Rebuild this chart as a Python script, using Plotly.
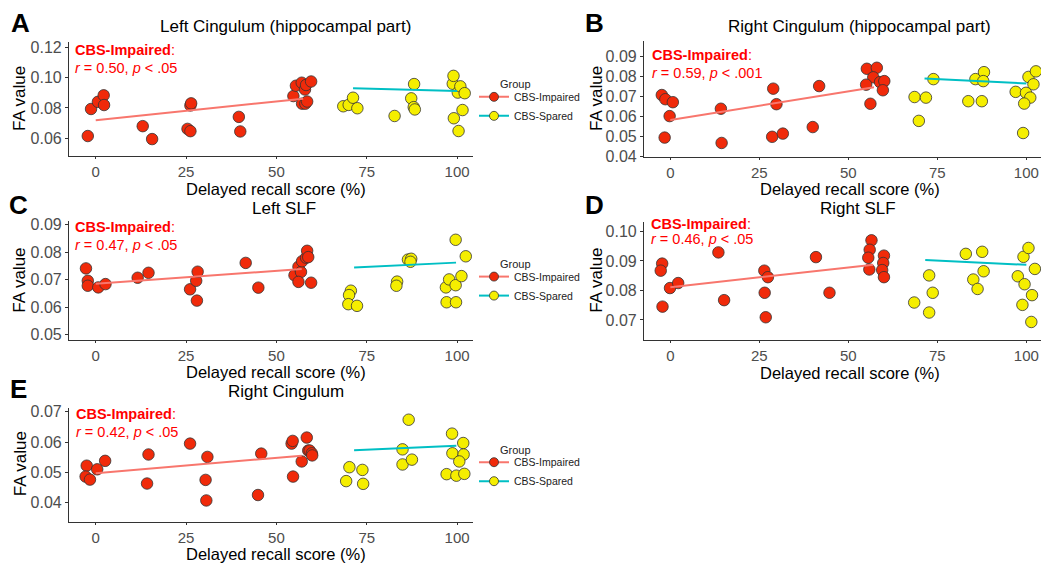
import plotly.graph_objects as go

# ---------------- data ----------------
x_ticks = [0, 25, 50, 75, 100]
x_ticktext = ["0", "25", "50", "75", "100"]

# Panel A: Left Cingulum (hippocampal part)
A_imp_x = [-2.2, -1.3, 0.6, 2.2, 2.3, 13.0, 15.6, 25.4, 26.2, 26.2, 26.4, 39.6, 40.0,
           54.7, 55.4, 57.0, 57.9, 58.2, 57.1, 58.0, 58.5, 59.6]
A_imp_y = [0.0615, 0.0793, 0.0840, 0.0883, 0.0819, 0.0680, 0.0595, 0.0662, 0.0647, 0.0816,
           0.0830, 0.0741, 0.0645, 0.0878, 0.0946, 0.0966, 0.0921, 0.0951, 0.0828, 0.0828,
           0.0842, 0.0974]
A_spa_x = [68.5, 70.0, 71.2, 72.4, 82.7, 87.3, 88.1, 88.0, 88.3, 98.8, 99.0, 99.1, 100.4,
           100.2, 100.9, 102.1, 101.5]
A_spa_y = [0.0811, 0.0820, 0.0867, 0.0798, 0.0747, 0.0863, 0.0957, 0.0805, 0.0790, 0.0959,
           0.1011, 0.0732, 0.0648, 0.0901, 0.0942, 0.0897, 0.0786]
A_imp_fit_x = [0, 57.4]
A_imp_fit_y = [0.0719, 0.0861]
A_spa_fit_x = [71.2, 100]
A_spa_fit_y = [0.0929, 0.0912]
A_yticks = [0.06, 0.08, 0.10, 0.12]
A_yticktext = ["0.06", "0.08", "0.10", "0.12"]

# Panel B: Right Cingulum (hippocampal part)
B_imp_x = [-2.4, -1.4, 0.7, -0.2, -1.6, 14.2, 14.4, 28.9, 29.8, 28.6, 31.6, 41.8, 40.0,
           55.2, 58.0, 57.0, 55.0, 56.2, 58.9, 60.1, 59.7]
B_imp_y = [0.0708, 0.0687, 0.0672, 0.0602, 0.0494, 0.0639, 0.0467, 0.0740, 0.0662, 0.0498,
           0.0514, 0.0753, 0.0547, 0.0840, 0.0845, 0.0797, 0.0760, 0.0664, 0.0773, 0.0778,
           0.0732]
B_spa_x = [68.6, 71.8, 69.8, 73.9, 83.7, 85.7, 88.1, 87.9, 87.5, 97.0, 99.9, 100.6, 102.0,
           102.7, 101.1, 99.4, 99.1]
B_spa_y = [0.0698, 0.0695, 0.0578, 0.0788, 0.0677, 0.0788, 0.0823, 0.0778, 0.0677, 0.0724,
           0.0719, 0.0799, 0.0762, 0.0827, 0.0695, 0.0665, 0.0517]
B_imp_fit_x = [0, 57.2]
B_imp_fit_y = [0.0582, 0.0747]
B_spa_fit_x = [71.4, 100]
B_spa_fit_y = [0.0791, 0.0766]
B_yticks = [0.04, 0.05, 0.06, 0.07, 0.08, 0.09]
B_yticktext = ["0.04", "0.05", "0.06", "0.07", "0.08", "0.09"]

# Panel C: Left SLF
C_imp_x = [-2.7, -2.2, -2.2, 0.7, 2.7, 11.6, 14.6, 26.1, 27.8, 28.2, 28.0, 41.5, 45.0,
           55.0, 56.1, 56.8, 56.1, 57.1, 58.2, 58.5, 58.8, 59.6]
C_imp_y = [0.0741, 0.0696, 0.0678, 0.0672, 0.0684, 0.0707, 0.0725, 0.0665, 0.0696, 0.0729,
           0.0624, 0.0761, 0.0671, 0.0716, 0.0747, 0.0728, 0.0692, 0.0767, 0.0780, 0.0805,
           0.0782, 0.0689]
C_spa_x = [70.6, 70.1, 69.9, 72.3, 83.4, 83.2, 86.4, 87.3, 87.1, 96.9, 97.8, 97.1, 99.6,
           99.6, 99.7, 101.2, 102.4]
C_spa_y = [0.0660, 0.0644, 0.0611, 0.0605, 0.0693, 0.0678, 0.0773, 0.0776, 0.0765, 0.0672,
           0.0701, 0.0618, 0.0845, 0.0680, 0.0618, 0.0713, 0.0785]
C_imp_fit_x = [0, 57.0]
C_imp_fit_y = [0.0685, 0.0739]
C_spa_fit_x = [71.5, 99.7]
C_spa_fit_y = [0.0744, 0.0762]
C_yticks = [0.05, 0.06, 0.07, 0.08, 0.09]
C_yticktext = ["0.05", "0.06", "0.07", "0.08", "0.09"]

# Panel D: Right SLF
D_imp_x = [-2.3, -2.7, -2.2, -0.1, 2.2, 13.5, 15.1, 26.4, 27.4, 26.5, 26.8, 40.9, 44.7,
           56.5, 56.0, 55.6, 55.9, 60.0, 59.8, 59.5, 60.0]
D_imp_y = [0.0891, 0.0867, 0.0745, 0.0808, 0.0825, 0.0929, 0.0767, 0.0867, 0.0845, 0.0792,
           0.0709, 0.0913, 0.0792, 0.0970, 0.0938, 0.0911, 0.0871, 0.0918, 0.0893, 0.0869,
           0.0845]
D_spa_x = [68.5, 72.7, 73.7, 72.7, 83.0, 85.1, 86.3, 87.6, 88.0, 97.6, 99.2, 100.6, 99.5,
           98.9, 102.4, 101.6, 101.4]
D_spa_y = [0.0759, 0.0851, 0.0792, 0.0725, 0.0924, 0.0837, 0.0805, 0.0931, 0.0865, 0.0848,
           0.0914, 0.0944, 0.0821, 0.0751, 0.0873, 0.0784, 0.0693]
D_imp_fit_x = [0, 57.0]
D_imp_fit_y = [0.0811, 0.0887]
D_spa_fit_x = [71.6, 100]
D_spa_fit_y = [0.0903, 0.0887]
D_yticks = [0.07, 0.08, 0.09, 0.10]
D_yticktext = ["0.07", "0.08", "0.09", "0.10"]

# Panel E: Right Cingulum
E_imp_x = [-2.5, -2.8, -1.6, 0.4, 2.6, 14.6, 14.2, 26.1, 30.9, 30.4, 30.6, 44.9, 45.8,
           54.2, 54.5, 54.6, 57.0, 58.4, 58.8, 59.2, 59.8, 59.9]
E_imp_y = [0.0522, 0.0486, 0.0476, 0.0510, 0.0538, 0.0559, 0.0463, 0.0595, 0.0551, 0.0475,
           0.0407, 0.0425, 0.0562, 0.0595, 0.0604, 0.0486, 0.0536, 0.0615, 0.0572, 0.0572,
           0.0563, 0.0556]
E_spa_x = [70.2, 69.3, 73.8, 74.0, 86.6, 84.9, 84.9, 87.5, 98.6, 98.7, 97.1, 99.8, 101.7,
           101.8, 100.6, 102.0]
E_spa_y = [0.0517, 0.0471, 0.0508, 0.0462, 0.0674, 0.0576, 0.0526, 0.0542, 0.0628, 0.0563,
           0.0494, 0.0489, 0.0597, 0.0559, 0.0536, 0.0495]
E_imp_fit_x = [0, 57.0]
E_imp_fit_y = [0.0497, 0.0555]
E_spa_fit_x = [71.5, 99.8]
E_spa_fit_y = [0.0573, 0.0588]
E_yticks = [0.04, 0.05, 0.06, 0.07]
E_yticktext = ["0.04", "0.05", "0.06", "0.07"]

titles = ["Left Cingulum (hippocampal part)", "Right Cingulum (hippocampal part)",
          "Left SLF", "Right SLF", "Right Cingulum"]
letters = ["A", "B", "C", "D", "E"]
stat_r = ["0.50", "0.59", "0.47", "0.46", "0.42"]
stat_p = [".05", ".001", ".05", ".05", ".05"]
groups = ["CBS-Impaired", "CBS-Spared"]

# ---------------- geometry (pixels) ----------------
OFF = 8
W, H = 1049 - OFF, 569 - OFF


def fx(p):
    return (p - OFF) / W


def fy(p):
    return 1 - (p - OFF) / H


# L, R, T, B of plotting areas
boxes = [(69, 473, 38, 154), (644, 1042, 37, 155.5), (69, 473, 221, 343),
         (644, 1042, 222, 343), (69, 473, 412, 529)]
yranges = [(0.0486, 0.1232), (0.0396, 0.0978), (0.0480, 0.0913), (0.0631, 0.1032),
           (0.0336, 0.0714)]
title_pos = [(285, 22), (859, 22), (284, 208), (858, 208), (286, 395)]
letter_pos = [(20, 18), (594, 18), (18, 205), (594, 205), (18, 393)]
stat_x = [73, 650, 73, 649, 74]
stat_y1 = [45.5, 50.5, 227.5, 223.5, 419]
stat_y2 = [64, 69, 245.5, 239.5, 436.5]
ylab_pos = [(20, 96), (597, 96), (20, 282), (597, 282), (20, 470)]
xlab_pos = [(276, 188.5), (850, 188.5), (276, 375.5), (850, 376.5), (276, 561.5)]
legend_pos = [(474, 79), None, (474, 263), None, (474, 453)]
group_title_pos = [(498, 81), None, (498, 265), None, (498, 455)]

panels = [
    (A_imp_x, A_imp_y, A_spa_x, A_spa_y, A_imp_fit_x, A_imp_fit_y, A_spa_fit_x, A_spa_fit_y, A_yticks, A_yticktext),
    (B_imp_x, B_imp_y, B_spa_x, B_spa_y, B_imp_fit_x, B_imp_fit_y, B_spa_fit_x, B_spa_fit_y, B_yticks, B_yticktext),
    (C_imp_x, C_imp_y, C_spa_x, C_spa_y, C_imp_fit_x, C_imp_fit_y, C_spa_fit_x, C_spa_fit_y, C_yticks, C_yticktext),
    (D_imp_x, D_imp_y, D_spa_x, D_spa_y, D_imp_fit_x, D_imp_fit_y, D_spa_fit_x, D_spa_fit_y, D_yticks, D_yticktext),
    (E_imp_x, E_imp_y, E_spa_x, E_spa_y, E_imp_fit_x, E_imp_fit_y, E_spa_fit_x, E_spa_fit_y, E_yticks, E_yticktext),
]

FONT = "Liberation Sans, Arial, Helvetica, sans-serif"
RED_FILL = "#F02A0A"
YEL_FILL = "#F5EE00"
RED_LINE = "#F8766D"
CYAN_LINE = "#00BFC4"
OUTLINE = "#333333"
AXIS_COL = "#333333"

fig = go.Figure()
layout = dict(
    width=W, height=H,
    margin=dict(l=0, r=0, t=0, b=0),
    paper_bgcolor="white", plot_bgcolor="white",
    font=dict(family=FONT, color="black"),
    showlegend=True,
    annotations=[],
)

legend_names = {0: "legend", 2: "legend2", 4: "legend3"}

for i, (ix, iy, sx, sy, ifx, ify, sfx, sfy, yt, ytt) in enumerate(panels):
    n = "" if i == 0 else str(i + 1)
    xa, ya = "x" + n, "y" + n
    L, R, T, B = boxes[i]
    layout["xaxis" + n] = dict(
        domain=[fx(L), fx(R)], range=[-7.4, 104.4], anchor=ya,
        tickvals=x_ticks, ticktext=x_ticktext,
        showline=True, linecolor=AXIS_COL, linewidth=1.1,
        ticks="outside", ticklen=2, tickwidth=1, tickcolor=AXIS_COL,
        tickfont=dict(size=15, color="#4D4D4D", family=FONT),
        showgrid=False, zeroline=False,
    )
    layout["yaxis" + n] = dict(
        domain=[fy(B), fy(T)], range=list(yranges[i]), anchor=xa,
        tickvals=yt, ticktext=ytt,
        showline=True, linecolor=AXIS_COL, linewidth=1.1,
        ticks="outside", ticklen=3, tickwidth=1, tickcolor=AXIS_COL,
        tickfont=dict(size=16, color="#4D4D4D", family=FONT),
        showgrid=False, zeroline=False,
    )
    # points
    fig.add_trace(go.Scatter(x=ix, y=iy, mode="markers", xaxis=xa, yaxis=ya, showlegend=False,
                             marker=dict(size=11.5, color=RED_FILL, line=dict(color=OUTLINE, width=0.8))))
    fig.add_trace(go.Scatter(x=sx, y=sy, mode="markers", xaxis=xa, yaxis=ya, showlegend=False,
                             marker=dict(size=11.5, color=YEL_FILL, line=dict(color=OUTLINE, width=0.8))))
    # fit lines
    fig.add_trace(go.Scatter(x=ifx, y=ify, mode="lines", xaxis=xa, yaxis=ya, showlegend=False,
                             line=dict(color=RED_LINE, width=2)))
    fig.add_trace(go.Scatter(x=sfx, y=sfy, mode="lines", xaxis=xa, yaxis=ya, showlegend=False,
                             line=dict(color=CYAN_LINE, width=2)))

    anns = layout["annotations"]
    # title
    anns.append(dict(text=titles[i], x=fx(title_pos[i][0]), y=fy(title_pos[i][1]), xref="paper", yref="paper",
                     xanchor="center", yanchor="middle", showarrow=False,
                     font=dict(size=17, color="black", family=FONT)))
    # panel letter
    anns.append(dict(text="<b>" + letters[i] + "</b>", x=fx(letter_pos[i][0]), y=fy(letter_pos[i][1]),
                     xref="paper", yref="paper", xanchor="center", yanchor="middle", showarrow=False,
                     font=dict(size=26, color="black", family=FONT)))
    # statistics text (two lines)
    anns.append(dict(text="<b>CBS-Impaired</b>:",
                     x=fx(stat_x[i]), y=fy(stat_y1[i]), xref="paper", yref="paper",
                     xanchor="left", yanchor="middle", align="left", showarrow=False,
                     font=dict(size=14.5, color="#FF0000", family=FONT)))
    anns.append(dict(text="<i>r</i> = " + stat_r[i] + ", <i>p</i> &lt; " + stat_p[i],
                     x=fx(stat_x[i]), y=fy(stat_y2[i]), xref="paper", yref="paper",
                     xanchor="left", yanchor="middle", align="left", showarrow=False,
                     font=dict(size=14.5, color="#FF0000", family=FONT)))
    # axis titles
    anns.append(dict(text="FA value", x=fx(ylab_pos[i][0]), y=fy(ylab_pos[i][1]), xref="paper", yref="paper",
                     xanchor="center", yanchor="middle", textangle=-90, showarrow=False,
                     font=dict(size=17, color="black", family=FONT)))
    anns.append(dict(text="Delayed recall score (%)", x=fx(xlab_pos[i][0]), y=fy(xlab_pos[i][1]),
                     xref="paper", yref="paper", xanchor="center", yanchor="middle", showarrow=False,
                     font=dict(size=16.5, color="black", family=FONT)))

    # legends
    if i in legend_names:
        lg = legend_names[i]
        lx, ly = legend_pos[i]
        layout[lg] = dict(x=fx(lx), y=fy(ly), xanchor="left", yanchor="top",
                          bgcolor="rgba(0,0,0,0)", itemwidth=30, tracegroupgap=0,
                          font=dict(size=10.5, color="#222222", family=FONT))
        gx, gy = group_title_pos[i]
        anns.append(dict(text="Group", x=fx(gx), y=fy(gy), xref="paper", yref="paper",
                         xanchor="left", yanchor="middle", showarrow=False,
                         font=dict(size=11, color="#222222", family=FONT)))
        for gname, fill, lcol in zip(groups, [RED_FILL, YEL_FILL], [RED_LINE, CYAN_LINE]):
            fig.add_trace(go.Scatter(x=[None], y=[None], mode="lines+markers", name=gname,
                                     xaxis=xa, yaxis=ya, legend=lg, showlegend=True,
                                     line=dict(color=lcol, width=2),
                                     marker=dict(size=9, color=fill, line=dict(color=OUTLINE, width=0.8))))

fig.update_layout(**layout)
fig.write_html("out.html")
